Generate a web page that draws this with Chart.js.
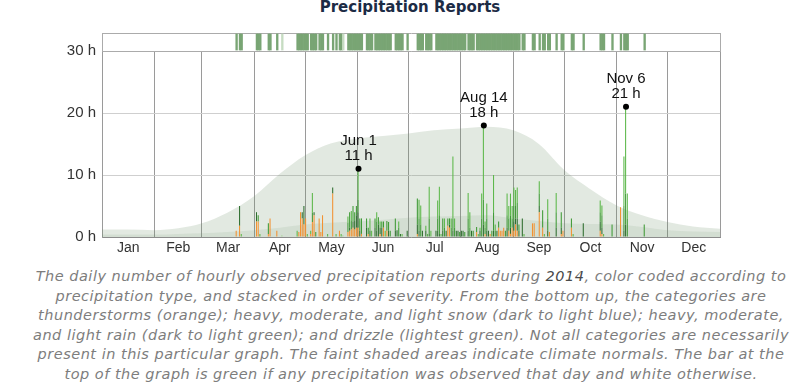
<!DOCTYPE html>
<html lang="en">
<head>
<meta charset="UTF-8">
<title>Precipitation Reports</title>
<script src="https://cdn.jsdelivr.net/npm/chart.js@4.4.1/dist/chart.umd.min.js"></script>
<style>
    body { margin: 0; background: #fff; width: 800px; height: 391px; overflow: hidden; position: relative; }
    .title { position: absolute; left: 0; width: 820px; top: -2px; line-height: 18px; text-align: center;
             font: bold 15px 'DejaVu Sans', sans-serif; color: #1c2b45; }
    #main { position: absolute; left: 0; top: 0; }
    #strip { position: absolute; left: 0; top: 28px; }
    .caption { position: absolute; left: 11px; width: 800px; top: 267px; text-align: center; white-space: nowrap;
               font: italic 14.5px 'DejaVu Sans', sans-serif; letter-spacing: 0.5px; line-height: 19.6px; color: #7d7d7d; }
    .caption span { color: #4a4a4a; }
</style>
</head>
<body>
<div class="title">Precipitation Reports</div>
<canvas id="main" width="800" height="262"></canvas>
<canvas id="strip" width="800" height="26"></canvas>
<div class="caption">
The daily number of hourly observed precipitation reports during <span>2014</span>, color coded according to<br>
precipitation type, and stacked in order of severity. From the bottom up, the categories are<br>
thunderstorms (orange); heavy, moderate, and light snow (dark to light blue); heavy, moderate,<br>
and light rain (dark to light green); and drizzle (lightest green). Not all categories are necessarily<br>
present in this particular graph. The faint shaded areas indicate climate normals. The bar at the<br>
top of the graph is green if any precipitation was observed that day and white otherwise.
</div>

<script>
    // calendar (2014)
    const monthNames = ['Jan', 'Feb', 'Mar', 'Apr', 'May', 'Jun', 'Jul', 'Aug', 'Sep', 'Oct', 'Nov', 'Dec'];
    const monthStarts = [0, 31, 59, 90, 120, 151, 181, 212, 243, 273, 304, 334, 365];
    const yTicks = [0, 10, 20, 30];

    // days with reports, and hours per category (one line per month)
    const obsDays = [
        'Mar 21', 'Mar 23', 'Mar 24',
        'Apr 2', 'Apr 3', 'Apr 4', 'Apr 9', 'Apr 10', 'Apr 14', 'Apr 17', 'Apr 26', 'Apr 27', 'Apr 28', 'Apr 29', 'Apr 30',
        'May 1', 'May 2', 'May 4', 'May 5', 'May 6', 'May 7', 'May 9', 'May 10', 'May 11', 'May 14', 'May 17', 'May 19', 'May 21', 'May 22', 'May 23', 'May 26', 'May 27', 'May 28', 'May 29', 'May 30', 'May 31',
        'Jun 1', 'Jun 2', 'Jun 3', 'Jun 6', 'Jun 7', 'Jun 8', 'Jun 9', 'Jun 11', 'Jun 12', 'Jun 13', 'Jun 14', 'Jun 15', 'Jun 16', 'Jun 17', 'Jun 18', 'Jun 19', 'Jun 20', 'Jun 23', 'Jun 24', 'Jun 25', 'Jun 26', 'Jun 27', 'Jun 30',
        'Jul 6', 'Jul 7', 'Jul 8', 'Jul 9', 'Jul 11', 'Jul 12', 'Jul 13', 'Jul 14', 'Jul 17', 'Jul 18', 'Jul 19', 'Jul 20', 'Jul 21', 'Jul 22', 'Jul 23', 'Jul 24', 'Jul 25', 'Jul 26', 'Jul 27', 'Jul 28', 'Jul 29', 'Jul 30', 'Jul 31',
        'Aug 1', 'Aug 2', 'Aug 3', 'Aug 5', 'Aug 6', 'Aug 7', 'Aug 8', 'Aug 10', 'Aug 11', 'Aug 12', 'Aug 13', 'Aug 14', 'Aug 15', 'Aug 16', 'Aug 17', 'Aug 18', 'Aug 19', 'Aug 20', 'Aug 21', 'Aug 22', 'Aug 23', 'Aug 24', 'Aug 25', 'Aug 26', 'Aug 27', 'Aug 28', 'Aug 29', 'Aug 30', 'Aug 31',
        'Sep 1', 'Sep 2', 'Sep 3', 'Sep 4', 'Sep 6', 'Sep 7', 'Sep 12', 'Sep 13', 'Sep 16', 'Sep 18', 'Sep 19', 'Sep 21', 'Sep 22', 'Sep 26', 'Sep 29', 'Sep 30',
        'Oct 5', 'Oct 6', 'Oct 12', 'Oct 22', 'Oct 23', 'Oct 24', 'Oct 29',
        'Nov 3', 'Nov 5', 'Nov 6', 'Nov 7', 'Nov 17'
    ];
    const thunder = [
        1, 1.8, 0,
        2.5, 2.5, 0, 0.5, 3, 1, 0, 0, 0.8, 4, 3, 2,
        3, 0, 0.5, 2.4, 3.5, 0, 3, 0.8, 3.5, 0, 7, 0, 1, 0, 0, 0.8, 1, 1.2, 1.5, 1.2, 1.5,
        1.5, 0, 0.5, 0, 0.5, 0, 0, 0, 0, 0, 0.5, 0, 1.5, 0, 1, 0, 0, 0, 0, 0, 0, 0, 0,
        0.5, 0, 0, 0, 0, 0, 0, 0, 0, 0, 0, 0, 0, 0, 0, 1.8, 1.5, 0, 0, 0, 0, 0, 0,
        0, 0, 0, 0, 0, 0, 0, 0.8, 0, 0, 0, 0, 0.5, 0, 0, 0.5, 0, 0, 0, 0, 1.5, 1, 1, 1.5, 0, 0, 1, 0.5, 1.5,
        1, 2, 1, 0, 0, 0, 2.2, 2.2, 4, 1.5, 0, 0, 0.8, 0, 0.5, 1,
        1.5, 0, 0, 1, 0.5, 0, 0,
        4.8, 0, 0, 0, 0
    ];
    const heavyRain = [
        0, 3.2, 0,
        1.5, 0, 0, 0, 0, 0, 0, 0, 0, 0, 1, 3,
        0, 0, 0, 0, 0.5, 0, 0, 0, 0, 0, 1, 0, 0, 0, 0, 0, 0.5, 0, 1, 1.5, 2,
        2.5, 1, 0, 1.5, 0, 1, 0, 1.5, 1, 2, 1, 1.5, 0, 0, 0, 1, 0, 1, 1.1, 0, 0.5, 0, 1,
        1.5, 1, 0, 1, 1, 0, 0.5, 0, 1, 1, 0.5, 0, 1, 0, 1, 0, 0.5, 0, 1, 0, 1, 1, 0,
        1, 1, 0, 1, 0, 1, 0, 0, 0, 1, 0, 2, 0, 1, 1, 0, 0, 1, 0, 1, 0, 0, 0, 0, 0, 1.5, 0, 1, 0,
        1.5, 1, 2, 1, 3, 0, 0, 0, 1, 0, 0, 1, 0, 1.5, 1, 0,
        0, 0, 2.2, 1.5, 1, 0, 0,
        0, 1, 2, 0, 0
    ];
    const moderateRain = [
        0, 0, 0,
        0, 1, 0, 1.7, 0, 0, 0, 0, 0, 0, 0, 0,
        0, 0, 0, 1.5, 0, 0.8, 0, 0, 0, 0, 0, 0, 0, 0, 0, 1.5, 2.5, 1.5, 2.5, 1.3, 1.5,
        2, 2, 2.5, 1.5, 1, 0, 0, 1.5, 1.5, 1.2, 0, 1, 1, 0, 1.6, 1.4, 1, 2, 0, 1.5, 0, 0, 0,
        4.2, 2, 2, 0, 0, 0, 2.5, 0, 0, 2, 3, 0, 2, 1.5, 0, 1.2, 1, 1.5, 2, 1.5, 0, 0, 0.8,
        0, 0, 0.8, 2, 1.5, 0, 1, 0.8, 0, 0, 3, 4, 1, 2, 0, 0, 1, 3, 1, 0, 1, 0, 0, 0, 1, 2, 2, 2, 1.5,
        2.5, 2, 2.5, 1, 0, 0, 0, 0, 2, 2.8, 0, 2, 0, 2.5, 2.5, 0,
        1.5, 0, 0, 1.5, 2, 0, 2,
        0, 4, 5, 3, 2
    ];
    const lightRain = [
        0, 0, 0.5,
        0, 0, 0.5, 0, 0, 0, 0, 1, 0, 0, 0, 0,
        0, 0.5, 0.5, 3.2, 0, 0, 0, 0, 0, 0.5, 0, 0.5, 0, 0.5, 0, 1, 0, 1.5, 0, 0, 0,
        5, 0, 0, 0, 0, 2, 1, 0, 1.5, 0, 1, 0, 0, 1, 0, 0, 0, 0, 0, 1, 0, 0.5, 0,
        0, 3, 3.1, 0, 0.8, 0.5, 5.1, 1, 0, 2.9, 4.6, 0.5, 0, 1.5, 0, 0, 0, 1.5, 10, 1.5, 0, 0, 0,
        0, 0, 0, 4.1, 2.5, 0, 0, 0, 0.5, 0.5, 4, 12, 1, 2.4, 0, 0, 0, 6, 1, 0, 0, 0, 0, 0, 0, 3.5, 2, 3.5, 2,
        3, 2.6, 2.5, 0, 0, 0.5, 0, 0, 2, 0, 0.5, 3.1, 0, 3.1, 0, 0,
        0, 0.5, 0, 1.9, 1.6, 0.5, 0,
        0, 8, 14, 4, 0
    ];
    const drizzle = [
        0, 0, 0,
        0, 0, 0, 0, 0, 0, 0.3, 0, 0, 0, 0, 0,
        0, 0, 0, 0, 0, 0, 0, 0, 0, 0, 0, 0, 0, 0, 0.3, 0, 0, 0, 0, 0, 0,
        0, 0, 0, 0, 0, 0, 0, 0, 0, 0, 0, 0, 0, 0, 0, 0, 0, 0, 0, 0, 0, 0, 0,
        0, 0, 0, 0, 0, 0, 0, 0, 0, 0, 0, 0, 0, 0, 0, 0, 0, 0, 0, 0, 0, 0, 0,
        0, 0, 0, 0, 0, 0, 0, 0, 0, 0, 0, 0, 0, 0, 0, 0, 0, 0, 0, 0, 0, 0, 0, 0, 0, 0, 0, 0, 0,
        0, 0, 0, 0, 0, 0, 0, 0, 0, 0, 0, 0, 0, 0, 0, 0,
        0, 0, 0, 0, 0, 0, 0,
        0, 0, 0, 0, 0
    ];

    // climate normals (day of year -> hours)
    const normalDays = [0, 15, 31, 45, 59, 74, 90, 105, 120, 135, 151, 166, 181, 196, 212, 227, 243, 258, 273, 288, 304, 319, 334, 349, 365];
    const normalHours = [1.2, 1.2, 1.1, 1.4, 2.2, 3.9, 6.6, 10.2, 13.2, 15.1, 15.9, 16.3, 16.7, 17.2, 17.5, 17.8, 17.2, 15.0, 10.8, 7.8, 5.1, 3.5, 2.4, 1.7, 1.35];
    const thunderNormalHours = [0.4, 0.4, 0.4, 0.5, 0.6, 0.8, 1.1, 1.5, 2.0, 2.3, 2.5, 2.8, 3.1, 3.3, 3.4, 3.5, 3.0, 2.6, 2.2, 2.1, 2.0, 1.6, 1.1, 0.9, 0.8];

    const peakDays = ['Jun 1', 'Aug 14', 'Nov 6'];

    // ---- build per-day tables for the library ----
    const NDAYS = 365;
    function dayOfYear(s) {
        const parts = s.split(' ');
        return monthStarts[monthNames.indexOf(parts[0])] + Number(parts[1]) - 1;
    }
    function daily(values) {
        const out = new Array(NDAYS).fill(null);
        obsDays.forEach((s, i) => { if (values[i] > 0) out[dayOfYear(s)] = values[i]; });
        return out;
    }
    const series = [thunder, heavyRain, moderateRain, lightRain, drizzle];
    const totals = new Array(NDAYS).fill(0);
    obsDays.forEach((s, i) => {
        totals[dayOfYear(s)] = series.reduce((a, arr) => a + arr[i], 0);
    });
    const dayLabels = totals.map((t, i) => i);

    // month boundaries and month midpoints on one axis
    const monthTicks = [];
    for (let m = 0; m < 12; m++) {
        monthTicks.push(monthStarts[m], (monthStarts[m] + monthStarts[m + 1]) / 2);
    }
    monthTicks.push(365);

    Chart.defaults.font.family = "'Liberation Sans', Arial, sans-serif";

    const barBase = {
        type: 'bar', xAxisID: 'x', yAxisID: 'y', stack: 'obs',
        barPercentage: 1.25, categoryPercentage: 1, borderWidth: 0, order: 1
    };
    const areaBase = {
        type: 'line', xAxisID: 'xm', yAxisID: 'y', fill: 'origin',
        borderWidth: 0, pointRadius: 0, cubicInterpolationMode: 'monotone'
    };
    const PEAK_INDEX = 7;

    const peakLabels = {
        id: 'peakLabels',
        afterDatasetsDraw(chart) {
            const meta = chart.getDatasetMeta(PEAK_INDEX);
            const ctx = chart.ctx;
            ctx.save();
            ctx.font = "15px 'Liberation Sans', Arial, sans-serif";
            ctx.fillStyle = '#111';
            ctx.textAlign = 'center';
            ctx.textBaseline = 'middle';
            meta.data.forEach((pt, i) => {
                ctx.fillText(peakDays[i], pt.x, pt.y - 28);
                ctx.fillText(totals[dayOfYear(peakDays[i])] + ' h', pt.x, pt.y - 13);
            });
            ctx.restore();
        }
    };

    new Chart(document.getElementById('main'), {
        type: 'bar',
        data: {
            labels: dayLabels,
            datasets: [
                { ...barBase, label: 'Thunderstorms', data: daily(thunder), backgroundColor: '#f29232' },
                { ...barBase, label: 'Heavy rain', data: daily(heavyRain), backgroundColor: '#2f6e2f' },
                { ...barBase, label: 'Moderate rain', data: daily(moderateRain), backgroundColor: '#3f9a36' },
                { ...barBase, label: 'Light rain', data: daily(lightRain), backgroundColor: '#5cb84a' },
                { ...barBase, label: 'Drizzle', data: daily(drizzle), backgroundColor: '#a3d493' },
                { ...areaBase, label: 'Normal', stack: 'n1', order: 10,
                  data: normalDays.map((d, i) => ({ x: d, y: normalHours[i] })),
                  backgroundColor: 'rgba(110,145,105,0.2)' },
                { ...areaBase, label: 'Thunder normal', stack: 'n2', order: 9,
                  data: normalDays.map((d, i) => ({ x: d, y: thunderNormalHours[i] })),
                  backgroundColor: 'rgba(110,145,105,0.13)' },
                { type: 'line', label: 'Peaks', xAxisID: 'xm', yAxisID: 'y', stack: 'pk', order: 0,
                  showLine: false, pointRadius: 3, pointBackgroundColor: '#000', pointBorderWidth: 0,
                  data: peakDays.map(s => ({ x: dayOfYear(s) + 0.5, y: totals[dayOfYear(s)] })) }
            ]
        },
        options: {
            responsive: false,
            animation: false,
            events: [],
            layout: { padding: { top: 51, right: 80, bottom: 5, left: 0 } },
            plugins: { legend: { display: false }, tooltip: { enabled: false } },
            scales: {
                x: { display: false, stacked: true },
                xm: {
                    type: 'linear', position: 'bottom', min: 0, max: 365, offset: false,
                    afterBuildTicks: s => { s.ticks = monthTicks.map(v => ({ value: v })); },
                    afterFit: s => { s.height = 20; },
                    ticks: {
                        autoSkip: false, maxRotation: 0, padding: 3, color: '#333',
                        font: { size: 14 },
                        callback: (v, i) => (i % 2 === 1 ? monthNames[(i - 1) / 2] : '')
                    },
                    grid: { offset: false, drawTicks: false, color: c => (c.index % 2 === 0 ? '#9a9a9a' : 'rgba(0,0,0,0)') },
                    border: { color: '#8c8c8c' }
                },
                y: {
                    min: 0, max: 30, stacked: true,
                    afterBuildTicks: s => { s.ticks = yTicks.map(v => ({ value: v })); },
                    afterFit: s => { s.width = 102; },
                    ticks: { padding: 6, color: '#333', font: { size: 15 }, callback: v => v + ' h' },
                    grid: { drawTicks: false, color: '#cfcfcf' },
                    border: { color: '#9a9a9a' }
                }
            }
        },
        plugins: [peakLabels]
    });

    // top strip: green on days with any precipitation
    new Chart(document.getElementById('strip'), {
        type: 'bar',
        data: {
            labels: dayLabels,
            datasets: [{
                data: totals.map(t => (t > 0 ? 1 : null)),
                backgroundColor: totals.map(t => (t >= 0.5 ? '#79a574' : '#c6dcc2')),
                barPercentage: 1, categoryPercentage: 1, borderWidth: 0
            }]
        },
        options: {
            responsive: false,
            animation: false,
            events: [],
            layout: { padding: { top: 5, right: 0, bottom: 3, left: 0 } },
            plugins: { legend: { display: false }, tooltip: { enabled: false } },
            scales: {
                x: { display: false },
                y: {
                    min: -0.06, max: 1.06,
                    afterBuildTicks: s => { s.ticks = [{ value: -0.06 }, { value: 1.06 }]; },
                    afterFit: s => { s.width = 102; },
                    ticks: { display: false },
                    grid: { drawTicks: false, color: '#ababab' },
                    border: { color: '#ababab' }
                },
                yr: {
                    position: 'right', min: 0, max: 1,
                    afterFit: s => { s.width = 80; },
                    ticks: { display: false },
                    grid: { display: false },
                    border: { color: '#ababab' }
                }
            }
        }
    });
</script>
</body>
</html>
